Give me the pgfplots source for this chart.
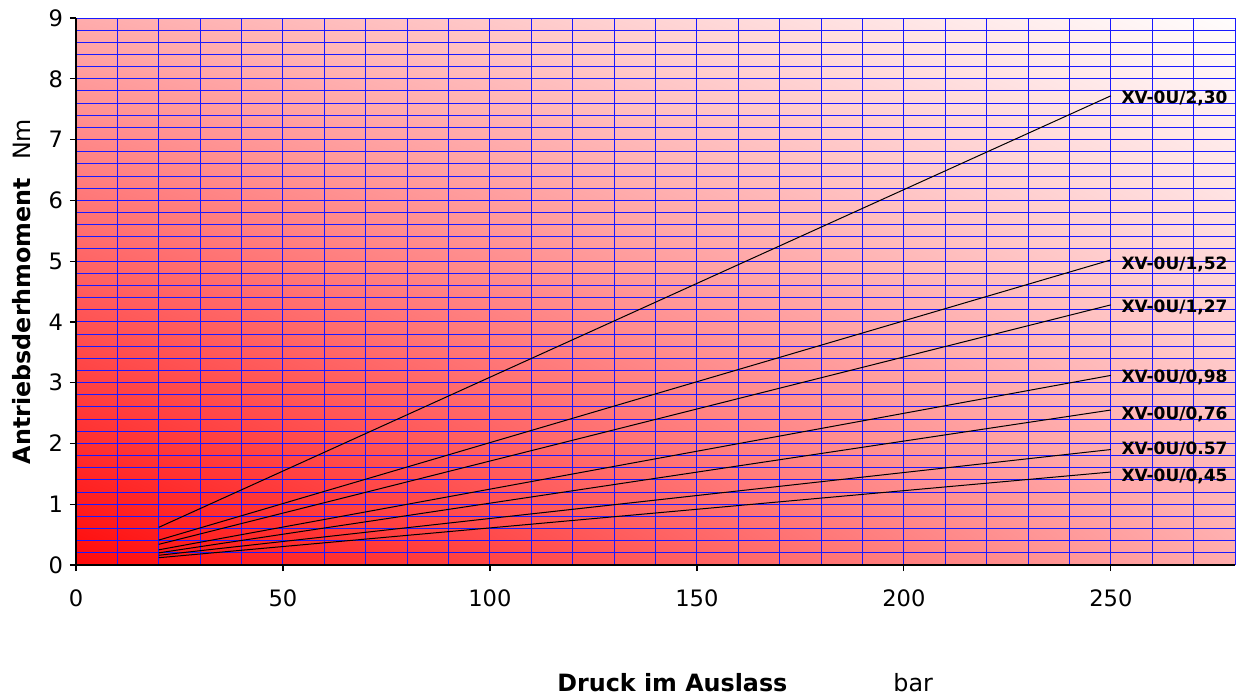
\documentclass[border=0pt]{standalone}
\usepackage{pgfplots}
\pgfplotsset{compat=1.18}
\usetikzlibrary{shadings}
\usepackage{fontspec}
\setmainfont{DejaVu Sans}
\definecolor{bgLL}{RGB}{255,10,10}
\definecolor{bgLR}{RGB}{255,172,172}
\definecolor{bgUL}{RGB}{255,172,172}
\definecolor{bgUR}{RGB}{255,253,253}
\definecolor{gridblue}{RGB}{25,25,255}
\begin{document}
\begin{tikzpicture}
\path[use as bounding box] (-38pt,-66.5pt) rectangle (580pt,282.5pt);
\begin{axis}[
  at={(0,0)}, anchor=south west,
  scale only axis, width=579.5pt, height=273.5pt,
  xmin=0, xmax=280, ymin=0, ymax=9,
  xtick={0,50,...,250}, ytick={0,1,...,9},
  minor xtick={10,20,...,280}, minor ytick={0.2,0.4,...,9},
  grid=both,
  major grid style={gridblue, line width=0.5pt},
  minor grid style={gridblue, line width=0.5pt},
  axis x line*=bottom, axis y line*=left,
  axis line style={-, black, line width=0.6pt},
  tick align=outside, major tick length=3pt, minor tick length=0pt,
  tick style={black, line width=0.6pt},
  tick label style={font=\fontsize{11.3}{13}\selectfont},
  xticklabel style={yshift=-6pt},
  /pgf/number format/assume math mode=true,
  axis background/.style={shade, lower left=bgLL, lower right=bgLR, upper left=bgUL, upper right=bgUR},
  clip=false,
]
\addplot[black, line width=0.5pt] coordinates {(20,0.62) (250,7.72)};
\addplot[black, line width=0.5pt] coordinates {(20,0.41) (250,5.02)};
\addplot[black, line width=0.5pt] coordinates {(20,0.34) (250,4.28)};
\addplot[black, line width=0.5pt] coordinates {(20,0.25) (250,3.12)};
\addplot[black, line width=0.5pt] coordinates {(20,0.20) (250,2.55)};
\addplot[black, line width=0.5pt] coordinates {(20,0.16) (250,1.90)};
\addplot[black, line width=0.5pt] coordinates {(20,0.12) (250,1.53)};
\tikzset{lbl/.style={anchor=west, inner sep=0pt, font=\fontsize{8.5}{10}\selectfont\bfseries}}
\node[lbl] at (axis cs:252.5,7.68) {XV-0U/2,30};
\node[lbl] at (axis cs:252.5,4.95) {XV-0U/1,52};
\node[lbl] at (axis cs:252.5,4.24) {XV-0U/1,27};
\node[lbl] at (axis cs:252.5,3.08) {XV-0U/0,98};
\node[lbl] at (axis cs:252.5,2.48) {XV-0U/0,76};
\node[lbl] at (axis cs:252.5,1.91) {XV-0U/0.57};
\node[lbl] at (axis cs:252.5,1.46) {XV-0U/0,45};
\end{axis}
\node[rotate=90, inner sep=0pt, font=\fontsize{11.9}{14}\selectfont] at (-27pt,136.75pt) {\textbf{Antriebsderhmoment}\hspace{9pt}Nm};
\node[anchor=base west, inner sep=0pt, font=\fontsize{11.9}{14}\selectfont\bfseries] at (240.5pt,-63pt) {Druck im Auslass};
\node[anchor=base west, inner sep=0pt, font=\fontsize{11.9}{14}\selectfont] at (408.5pt,-63pt) {bar};
\end{tikzpicture}
\end{document}
